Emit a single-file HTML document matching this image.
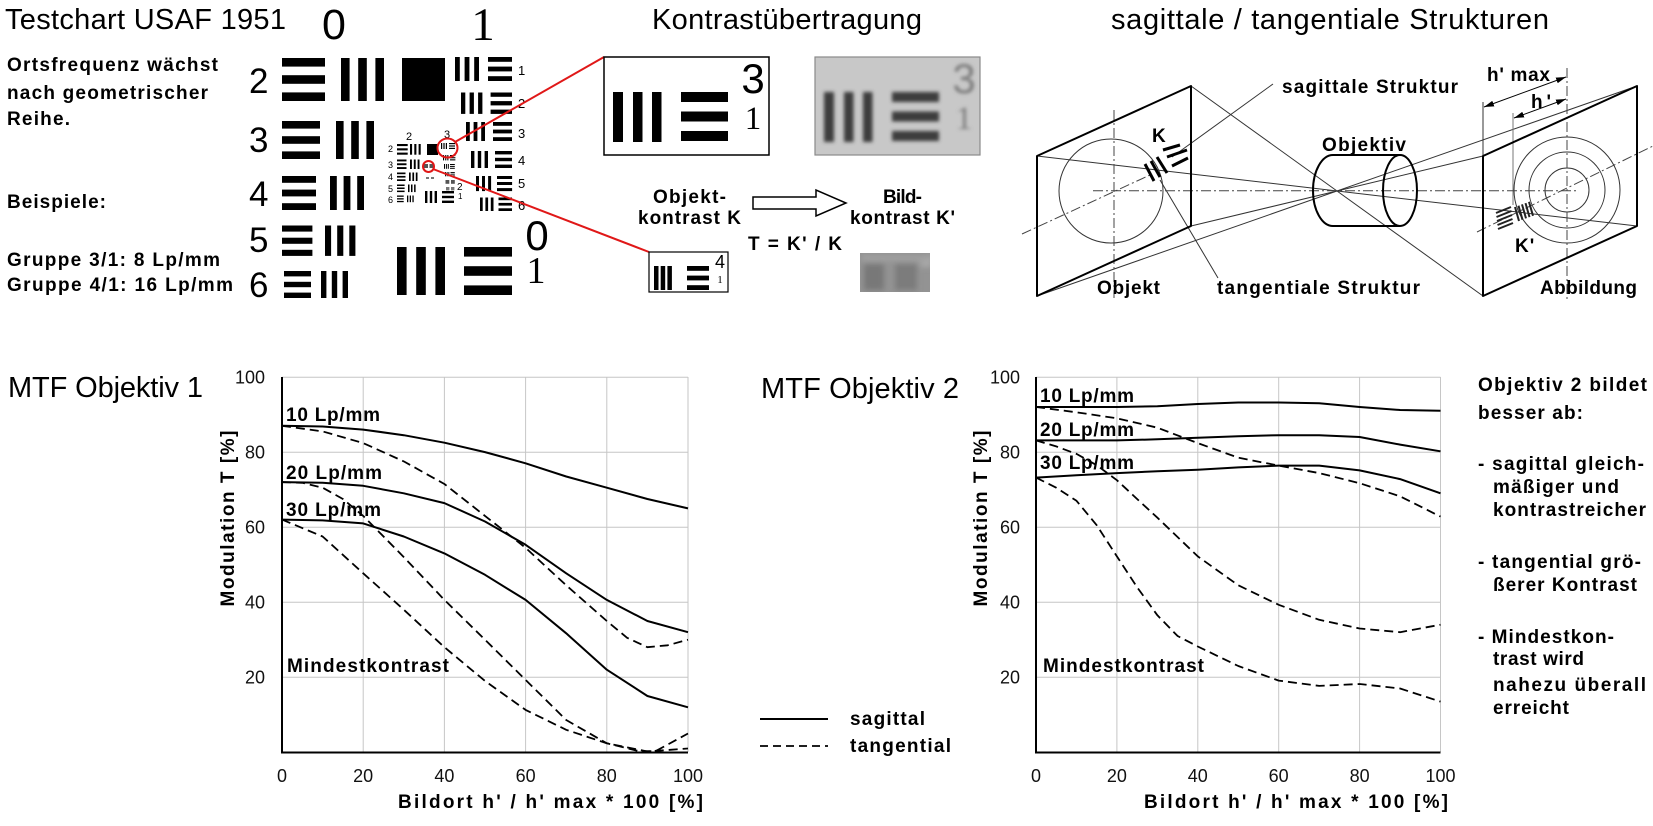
<!DOCTYPE html>
<html><head><meta charset="utf-8"><title>MTF</title>
<style>
html,body{margin:0;padding:0;background:#fff;overflow:hidden}
svg{display:block}
.ti{font-family:"Liberation Sans",Arial,sans-serif;font-size:29px;fill:#000}
.b{font-family:"Liberation Sans",Arial,sans-serif;font-weight:bold;font-size:19px;letter-spacing:1px;fill:#000}
.n{font-family:"Liberation Sans",Arial,sans-serif;font-size:18px;fill:#111}
.d{font-family:"Liberation Sans",Arial,sans-serif;fill:#000}
.s{font-family:"Liberation Serif","Times New Roman",serif;fill:#000}
</style></head><body>
<svg width="1653" height="826" viewBox="0 0 1653 826" xmlns="http://www.w3.org/2000/svg">
<defs>
<filter id="bl" x="-30%" y="-30%" width="160%" height="160%"><feGaussianBlur stdDeviation="1.8"/></filter>
<filter id="bl2" x="-30%" y="-30%" width="160%" height="160%"><feGaussianBlur stdDeviation="2.6"/></filter>
<clipPath id="cg"><rect x="815" y="57" width="165" height="98"/></clipPath>
<clipPath id="cg2"><rect x="860" y="253" width="70" height="39"/></clipPath>
<marker id="ah" viewBox="0 0 10 6" refX="10" refY="3" markerWidth="10" markerHeight="6" markerUnits="userSpaceOnUse" orient="auto-start-reverse"><path d="M0,0 L10,3 L0,6z" fill="#000"/></marker>
</defs>
<rect width="1653" height="826" fill="#fff"/>

<!-- ============ TITLES ============ -->
<text class="ti" x="5" y="29" textLength="281">Testchart USAF 1951</text>
<text class="ti" x="652" y="29" textLength="270">Kontrastübertragung</text>
<text class="ti" x="1111" y="29" textLength="438">sagittale / tangentiale Strukturen</text>
<text class="ti" x="8" y="397" textLength="195">MTF Objektiv 1</text>
<text class="ti" x="761" y="398" textLength="198">MTF Objektiv 2</text>

<!-- ============ LEFT TEXT ============ -->
<text class="b" x="7" y="71" textLength="212">Ortsfrequenz wächst</text>
<text class="b" x="7" y="99" textLength="202">nach geometrischer</text>
<text class="b" x="7" y="125" textLength="64">Reihe.</text>
<text class="b" x="7" y="208" textLength="100">Beispiele:</text>
<text class="b" x="7" y="266" textLength="214">Gruppe 3/1: 8 Lp/mm</text>
<text class="b" x="7" y="291" textLength="227">Gruppe 4/1: 16 Lp/mm</text>

<!-- ============ TESTCHART ============ -->
<g class="d" font-size="35">
<text x="249" y="93">2</text>
<text x="249" y="152">3</text>
<text x="249" y="206">4</text>
<text x="249" y="252">5</text>
<text x="249" y="297">6</text>
</g>
<text class="d" x="334" y="39" font-size="43" text-anchor="middle">0</text>
<text class="s" x="483" y="40" font-size="47" text-anchor="middle">1</text>
<text class="d" x="537" y="250" font-size="42" text-anchor="middle">0</text>
<text class="s" x="536" y="283" font-size="38" text-anchor="middle">1</text>

<g fill="#000">
<!-- group0 e2 -->
<rect x="282" y="58" width="43" height="8.6"/><rect x="282" y="75.2" width="43" height="8.6"/><rect x="282" y="92.4" width="43" height="8.6"/>
<rect x="341" y="58" width="8.6" height="43"/><rect x="358.2" y="58" width="8.6" height="43"/><rect x="375.4" y="58" width="8.6" height="43"/>
<rect x="402" y="58" width="43" height="43"/>
<!-- e3 -->
<rect x="282" y="121" width="38" height="7.6"/><rect x="282" y="136.2" width="38" height="7.6"/><rect x="282" y="151.4" width="38" height="7.6"/>
<rect x="336" y="121" width="7.6" height="38"/><rect x="351.2" y="121" width="7.6" height="38"/><rect x="366.4" y="121" width="7.6" height="38"/>
<!-- e4 -->
<rect x="282" y="176" width="34" height="6.8"/><rect x="282" y="189.6" width="34" height="6.8"/><rect x="282" y="203.2" width="34" height="6.8"/>
<rect x="330" y="176" width="6.8" height="34"/><rect x="343.6" y="176" width="6.8" height="34"/><rect x="357.2" y="176" width="6.8" height="34"/>
<!-- e5 -->
<rect x="282" y="225.5" width="30.4" height="6.1"/><rect x="282" y="237.7" width="30.4" height="6.1"/><rect x="282" y="249.8" width="30.4" height="6.1"/>
<rect x="325" y="225.5" width="6.1" height="30.4"/><rect x="337.2" y="225.5" width="6.1" height="30.4"/><rect x="349.3" y="225.5" width="6.1" height="30.4"/>
<!-- e6 -->
<rect x="284" y="271" width="27" height="5.4"/><rect x="284" y="281.8" width="27" height="5.4"/><rect x="284" y="292.6" width="27" height="5.4"/>
<rect x="321" y="271" width="5.4" height="27"/><rect x="331.8" y="271" width="5.4" height="27"/><rect x="342.6" y="271" width="5.4" height="27"/>
<!-- group0 e1 -->
<rect x="397" y="247" width="9.6" height="48"/><rect x="416.2" y="247" width="9.6" height="48"/><rect x="435.4" y="247" width="9.6" height="48"/>
<rect x="464" y="247" width="48" height="9.6"/><rect x="464" y="266.2" width="48" height="9.6"/><rect x="464" y="285.4" width="48" height="9.6"/>

<!-- group1 -->
<rect x="455" y="57" width="4.8" height="24"/><rect x="464.6" y="57" width="4.8" height="24"/><rect x="474.2" y="57" width="4.8" height="24"/>
<rect x="488" y="57" width="24" height="4.8"/><rect x="488" y="66.6" width="24" height="4.8"/><rect x="488" y="76.2" width="24" height="4.8"/>
<rect x="461" y="92.5" width="4.3" height="21.4"/><rect x="469.6" y="92.5" width="4.3" height="21.4"/><rect x="478.1" y="92.5" width="4.3" height="21.4"/>
<rect x="490.6" y="92.5" width="21.4" height="4.3"/><rect x="490.6" y="101.1" width="21.4" height="4.3"/><rect x="490.6" y="109.6" width="21.4" height="4.3"/>
<rect x="466" y="122" width="3.8" height="19"/><rect x="473.6" y="122" width="3.8" height="19"/><rect x="481.2" y="122" width="3.8" height="19"/>
<rect x="493" y="122" width="19" height="3.8"/><rect x="493" y="129.6" width="19" height="3.8"/><rect x="493" y="137.2" width="19" height="3.8"/>
<rect x="471" y="151" width="3.4" height="17"/><rect x="477.8" y="151" width="3.4" height="17"/><rect x="484.6" y="151" width="3.4" height="17"/>
<rect x="495" y="151" width="17" height="3.4"/><rect x="495" y="157.8" width="17" height="3.4"/><rect x="495" y="164.6" width="17" height="3.4"/>
<rect x="476" y="176" width="3" height="15.1"/><rect x="482" y="176" width="3" height="15.1"/><rect x="488.1" y="176" width="3" height="15.1"/>
<rect x="497" y="176" width="15.1" height="3"/><rect x="497" y="182" width="15.1" height="3"/><rect x="497" y="188.1" width="15.1" height="3"/>
<rect x="480" y="197.5" width="2.7" height="13.5"/><rect x="485.4" y="197.5" width="2.7" height="13.5"/><rect x="490.8" y="197.5" width="2.7" height="13.5"/>
<rect x="498.5" y="197.5" width="13.5" height="2.7"/><rect x="498.5" y="202.9" width="13.5" height="2.7"/><rect x="498.5" y="208.3" width="13.5" height="2.7"/>

<!-- group2 -->
<rect x="397" y="144" width="10.7" height="2.1"/><rect x="397" y="148.3" width="10.7" height="2.1"/><rect x="397" y="152.6" width="10.7" height="2.1"/>
<rect x="410" y="144" width="2.1" height="10.7"/><rect x="414.3" y="144" width="2.1" height="10.7"/><rect x="418.6" y="144" width="2.1" height="10.7"/>
<rect x="427" y="144" width="11" height="11"/>
<rect x="397" y="159.5" width="9.5" height="1.9"/><rect x="397" y="163.3" width="9.5" height="1.9"/><rect x="397" y="167.1" width="9.5" height="1.9"/>
<rect x="410" y="159.5" width="1.9" height="9.5"/><rect x="413.8" y="159.5" width="1.9" height="9.5"/><rect x="417.6" y="159.5" width="1.9" height="9.5"/>
<rect x="397" y="172.5" width="8.5" height="1.7"/><rect x="397" y="175.9" width="8.5" height="1.7"/><rect x="397" y="179.3" width="8.5" height="1.7"/>
<rect x="409" y="172.5" width="1.7" height="8.5"/><rect x="412.4" y="172.5" width="1.7" height="8.5"/><rect x="415.8" y="172.5" width="1.7" height="8.5"/>
<rect x="397" y="184.5" width="7.6" height="1.5"/><rect x="397" y="187.5" width="7.6" height="1.5"/><rect x="397" y="190.6" width="7.6" height="1.5"/>
<rect x="408" y="184.5" width="1.5" height="7.6"/><rect x="411" y="184.5" width="1.5" height="7.6"/><rect x="414.1" y="184.5" width="1.5" height="7.6"/>
<rect x="397" y="195.5" width="6.7" height="1.3"/><rect x="397" y="198.2" width="6.7" height="1.3"/><rect x="397" y="200.9" width="6.7" height="1.3"/>
<rect x="407" y="195.5" width="1.3" height="6.7"/><rect x="409.7" y="195.5" width="1.3" height="6.7"/><rect x="412.4" y="195.5" width="1.3" height="6.7"/>
<rect x="425" y="191" width="2.4" height="12"/><rect x="429.8" y="191" width="2.4" height="12"/><rect x="434.6" y="191" width="2.4" height="12"/>
<rect x="442" y="191" width="12" height="2.4"/><rect x="442" y="195.8" width="12" height="2.4"/><rect x="442" y="200.6" width="12" height="2.4"/>
<!-- group3 -->
<rect x="441" y="143" width="1.2" height="6"/><rect x="443.4" y="143" width="1.2" height="6"/><rect x="445.8" y="143" width="1.2" height="6"/>
<rect x="449" y="143" width="6" height="1.2"/><rect x="449" y="145.4" width="6" height="1.2"/><rect x="449" y="147.8" width="6" height="1.2"/>
<rect x="443" y="155" width="1.1" height="5.4"/><rect x="445.2" y="155" width="1.1" height="5.4"/><rect x="447.3" y="155" width="1.1" height="5.4"/>
<rect x="450" y="155" width="5.4" height="1.1"/><rect x="450" y="157.2" width="5.4" height="1.1"/><rect x="450" y="159.3" width="5.4" height="1.1"/>
<rect x="444" y="164" width="1" height="4.8"/><rect x="445.9" y="164" width="1" height="4.8"/><rect x="447.8" y="164" width="1" height="4.8"/>
<rect x="450" y="164" width="4.8" height="1"/><rect x="450" y="165.9" width="4.8" height="1"/><rect x="450" y="167.8" width="4.8" height="1"/>
<rect x="445" y="172" width="0.9" height="4.3"/><rect x="446.7" y="172" width="0.9" height="4.3"/><rect x="448.4" y="172" width="0.9" height="4.3"/>
<rect x="450.5" y="172" width="4.3" height="0.9"/><rect x="450.5" y="173.7" width="4.3" height="0.9"/><rect x="450.5" y="175.4" width="4.3" height="0.9"/>
<rect x="445.5" y="180" width="3.8" height="3.8" fill="#555"/><rect x="451" y="180" width="3.8" height="3.8" fill="#555"/>
<rect x="446" y="187" width="3.4" height="3.4" fill="#777"/><rect x="451" y="187" width="3.4" height="3.4" fill="#777"/>
<rect x="424" y="164" width="4" height="4" fill="#555"/><rect x="429.5" y="164" width="4" height="4" fill="#555"/>
<rect x="426" y="177" width="3" height="2" fill="#777"/><rect x="431" y="177" width="3" height="2" fill="#777"/>
</g>
<g class="d" font-size="13" fill="#555">
<text x="518" y="75">1</text><text x="518" y="108">2</text><text x="518" y="138">3</text>
<text x="518" y="165">4</text><text x="518" y="188">5</text><text x="518" y="210">6</text>
</g>
<g class="d" font-size="9" fill="#666">
<text x="406" y="140" font-size="11">2</text><text x="444" y="138" font-size="11">3</text>
<text x="388" y="152">2</text><text x="388" y="168">3</text><text x="388" y="180">4</text>
<text x="388" y="192">5</text><text x="388" y="203">6</text>
<text x="457" y="190" font-size="10">2</text><text x="458" y="199" font-size="8">1</text>
</g>
<!-- red -->
<g stroke="#e01818" stroke-width="2" fill="none">
<ellipse cx="447.5" cy="148" rx="10" ry="9.5"/>
<circle cx="428.5" cy="166.5" r="5.5"/>
<line x1="455" y1="142" x2="604" y2="57"/>
<line x1="433" y1="169" x2="649" y2="252"/>
</g>

<!-- ============ KONTRAST ============ -->
<rect x="604" y="57" width="165" height="98" fill="#fff" stroke="#000" stroke-width="1.5"/>
<g fill="#000">
<rect x="613" y="92" width="10" height="50"/><rect x="633" y="92" width="9.5" height="50"/><rect x="652" y="92" width="9.5" height="50"/>
<rect x="681" y="92" width="47" height="10"/><rect x="681" y="111.5" width="47" height="10"/><rect x="681" y="131" width="47" height="10"/>
</g>
<text class="d" x="753" y="93" font-size="42" text-anchor="middle">3</text>
<text class="s" x="753" y="129" font-size="33" text-anchor="middle">1</text>

<rect x="815" y="57" width="165" height="98" fill="#c8c8c8" stroke="#8a8a8a" stroke-width="1.2"/>
<g clip-path="url(#cg)"><g filter="url(#bl)" fill="#3c3c3c">
<rect x="824" y="92" width="10" height="50"/><rect x="844" y="92" width="9.5" height="50"/><rect x="863" y="92" width="9.5" height="50"/>
<rect x="892" y="92" width="47" height="10"/><rect x="892" y="111.5" width="47" height="10"/><rect x="892" y="131" width="47" height="10"/>
<text x="964" y="93" font-size="42" text-anchor="middle" font-family="Liberation Sans, sans-serif" fill="#7a7a7a">3</text>
<text x="964" y="129" font-size="33" text-anchor="middle" font-family="Liberation Serif, serif" fill="#7a7a7a">1</text>
</g></g>

<text class="b" x="653" y="203" textLength="74">Objekt-</text>
<text class="b" x="638" y="224" textLength="104">kontrast K</text>
<text class="b" x="883" y="203" textLength="40">Bild-</text>
<text class="b" x="850" y="224" textLength="106">kontrast K'</text>
<text class="b" x="748" y="250" textLength="95">T = K' / K</text>
<polygon points="753,197 816,197 816,190 846,203 816,216 816,209 753,209" fill="#fff" stroke="#000" stroke-width="1.5"/>

<rect x="649" y="252" width="79" height="40" fill="#fff" stroke="#000" stroke-width="1.2"/>
<g fill="#000">
<rect x="654" y="266" width="4.5" height="24"/><rect x="660.7" y="266" width="4.5" height="24"/><rect x="667.4" y="266" width="4.5" height="24"/>
<rect x="687" y="266" width="22" height="4.8"/><rect x="687" y="275.6" width="22" height="4.8"/><rect x="687" y="285.2" width="22" height="4.8"/>
</g>
<text class="d" x="720" y="268" font-size="18" text-anchor="middle">4</text>
<text class="s" x="720" y="283" font-size="11" text-anchor="middle">1</text>

<rect x="860" y="253" width="70" height="39" fill="#939393"/>
<g clip-path="url(#cg2)"><g filter="url(#bl2)">
<rect x="864" y="264" width="20" height="26" fill="#787878"/>
<rect x="895" y="264" width="22" height="26" fill="#7c7c7c"/>
<rect x="920" y="255" width="12" height="12" fill="#a8a8a8"/>
<rect x="862" y="255" width="66" height="6" fill="#a0a0a0"/>
</g></g>

<!-- ============ SAGITTAL / TANGENTIAL ============ -->
<g stroke="#333" stroke-width="1" fill="none">
<line x1="1037" y1="156" x2="1637" y2="226"/>
<line x1="1191" y1="86" x2="1483" y2="296"/>
<line x1="1037" y1="296" x2="1637" y2="86"/>
<line x1="1191" y1="226" x2="1483" y2="156"/>
<line x1="1172" y1="157" x2="1273" y2="84"/>
<line x1="1160" y1="180" x2="1218" y2="278"/>
<circle cx="1111" cy="191" r="52"/>
<circle cx="1567" cy="190" r="22"/>
<circle cx="1567" cy="190" r="38"/>
<circle cx="1567" cy="190" r="53"/>
<line x1="1483" y1="102" x2="1483" y2="156"/>
<line x1="1513" y1="113" x2="1513" y2="205" stroke="#777"/>
</g>
<g stroke="#444" stroke-width="1" fill="none" stroke-dasharray="10 3 2 3">
<line x1="1093" y1="190.7" x2="1576" y2="190.7"/>
<line x1="1114" y1="110" x2="1114" y2="298"/>
<line x1="1567" y1="68" x2="1567" y2="300"/>
<line x1="1022" y1="234" x2="1150" y2="175"/>
<line x1="1477" y1="232" x2="1653" y2="146"/>
</g>
<g stroke="#000" stroke-width="2" fill="none" stroke-linejoin="round">
<polygon points="1037,156 1191,86 1191,226 1037,296"/>
<polygon points="1483,156 1637,86 1637,226 1483,296"/>
<path d="M1333,155 L1400,155 M1333,226 L1400,226 M1333,155 A20,35.5 0 0 0 1333,226"/>
<ellipse cx="1400" cy="190.5" rx="17" ry="35.5"/>
</g>
<g stroke="#000" stroke-width="3" stroke-linecap="butt">
<line x1="1145" y1="164" x2="1154" y2="181"/>
<line x1="1151" y1="161" x2="1160" y2="177"/>
<line x1="1157" y1="157" x2="1167" y2="173"/>
<line x1="1163" y1="150" x2="1180" y2="145"/>
<line x1="1167" y1="157" x2="1187" y2="150"/>
<line x1="1172" y1="166" x2="1188" y2="158"/>
</g>
<g stroke="#222" stroke-width="2">
<line x1="1496" y1="213" x2="1511" y2="207"/>
<line x1="1496.5" y1="217" x2="1511.5" y2="211"/>
<line x1="1497" y1="221" x2="1512" y2="215"/>
<line x1="1497.5" y1="225" x2="1512.5" y2="219"/>
<line x1="1498" y1="229" x2="1513" y2="223"/>
<line x1="1515" y1="207" x2="1519" y2="221"/>
<line x1="1518.5" y1="205.7" x2="1522.5" y2="219.7"/>
<line x1="1522" y1="204.4" x2="1526" y2="218.4"/>
<line x1="1525.5" y1="203.1" x2="1529.5" y2="217.1"/>
<line x1="1529" y1="201.8" x2="1533" y2="215.8"/>
</g>
<g stroke="#000" stroke-width="1">
<line x1="1484" y1="107" x2="1566" y2="77" marker-start="url(#ah)" marker-end="url(#ah)"/>
<line x1="1514" y1="118" x2="1566" y2="99" marker-start="url(#ah)" marker-end="url(#ah)"/>
</g>
<text class="b" x="1282" y="93" textLength="177">sagittale Struktur</text>
<text class="b" x="1487" y="81" textLength="64">h' max</text>
<text class="b" x="1531" y="108" textLength="21">h'</text>
<text class="b" x="1322" y="151" font-size="20" textLength="85">Objektiv</text>
<text class="b" x="1152" y="142" font-size="20">K</text>
<text class="b" x="1515" y="252" font-size="20">K'</text>
<text class="b" x="1097" y="294" textLength="64">Objekt</text>
<text class="b" x="1217" y="294" textLength="204">tangentiale Struktur</text>
<text class="b" x="1540" y="294" textLength="98">Abbildung</text>

<!-- ============ CHART 1 ============ -->
<g stroke="#c6c6c6" stroke-width="1">
<line x1="363.2" y1="377" x2="363.2" y2="752"/><line x1="444.4" y1="377" x2="444.4" y2="752"/>
<line x1="525.6" y1="377" x2="525.6" y2="752"/><line x1="606.8" y1="377" x2="606.8" y2="752"/>
<line x1="688" y1="377" x2="688" y2="752"/>
<line x1="282" y1="377.3" x2="688" y2="377.3"/><line x1="282" y1="452.2" x2="688" y2="452.2"/>
<line x1="282" y1="527.2" x2="688" y2="527.2"/><line x1="282" y1="602.2" x2="688" y2="602.2"/>
<line x1="282" y1="677.2" x2="688" y2="677.2"/>
</g>
<g stroke="#000" stroke-width="2"><line x1="282" y1="377" x2="282" y2="753.5"/><line x1="281" y1="752.5" x2="688" y2="752.5"/></g>
<g class="n" text-anchor="end">
<text x="265" y="383.6">100</text><text x="265" y="458.6">80</text><text x="265" y="533.6">60</text>
<text x="265" y="608.5">40</text><text x="265" y="683.5">20</text>
</g>
<g class="n" text-anchor="middle">
<text x="282" y="782">0</text><text x="363.2" y="782">20</text><text x="444.4" y="782">40</text>
<text x="525.6" y="782">60</text><text x="606.8" y="782">80</text><text x="688" y="782">100</text>
</g>
<text class="b" x="398" y="808" textLength="306">Bildort h' / h' max * 100 [%]</text>
<text class="b" x="234" y="518" text-anchor="middle" transform="rotate(-90 234 518)" textLength="177">Modulation T [%]</text>
<g fill="none" stroke="#000" stroke-linejoin="round">
<polyline stroke-width="2" points="282,425.8 322.6,426.5 363.2,429.6 403.8,435.2 444.4,442.7 485,452.1 525.6,463.3 566.2,476.5 606.8,487.7 647.4,499 688,508.4"/>
<polyline stroke-width="2" points="282,482.1 322.6,482.8 363.2,485.8 403.8,493.3 444.4,503.1 485,521.5 525.6,544.8 566.2,573.3 606.8,599.9 647.4,621 688,632.2"/>
<polyline stroke-width="2" points="282,519.6 322.6,520.4 363.2,523.4 403.8,536.5 444.4,553.4 485,574.8 525.6,599.9 566.2,633.3 606.8,669.7 647.4,696 688,707.3"/>
<g stroke-width="1.8" stroke-dasharray="9 5">
<polyline points="282,425.8 322.6,431.4 363.2,443.1 403.8,461.4 444.4,484 485,515.9 525.6,547.8 566.2,585.3 606.8,621 627.1,637.8 647.4,647.2 667.7,645.3 688,639.7"/>
<polyline points="282,482.1 302.3,482.8 322.6,487.7 342.9,499 363.2,515.9 403.8,557.1 444.4,599.9 485,639.7 525.6,679.9 566.2,720 606.8,743.3 639.3,751.2 655.5,751.2 688,733.5"/>
<polyline points="282,519.6 322.6,536.5 363.2,573.3 403.8,609.7 444.4,647.2 485,681 525.6,709.9 566.2,729.8 606.8,743.3 647.4,751.5 688,748.5"/>
</g>
</g>
<text class="b" x="286" y="421" textLength="95">10 Lp/mm</text>
<text class="b" x="286" y="479" textLength="97">20 Lp/mm</text>
<text class="b" x="286" y="516" textLength="96">30 Lp/mm</text>
<text class="b" x="287" y="672" textLength="163">Mindestkontrast</text>

<!-- legend -->
<line x1="760" y1="719" x2="828" y2="719" stroke="#000" stroke-width="2"/>
<line x1="760" y1="746" x2="828" y2="746" stroke="#000" stroke-width="1.8" stroke-dasharray="8 5"/>
<text class="b" x="850" y="725" textLength="76">sagittal</text>
<text class="b" x="850" y="752" textLength="102">tangential</text>

<!-- ============ CHART 2 ============ -->
<g stroke="#c6c6c6" stroke-width="1">
<line x1="1116.9" y1="377" x2="1116.9" y2="752"/><line x1="1197.8" y1="377" x2="1197.8" y2="752"/>
<line x1="1278.7" y1="377" x2="1278.7" y2="752"/><line x1="1359.6" y1="377" x2="1359.6" y2="752"/>
<line x1="1440.5" y1="377" x2="1440.5" y2="752"/>
<line x1="1036" y1="377.3" x2="1440.5" y2="377.3"/><line x1="1036" y1="452.2" x2="1440.5" y2="452.2"/>
<line x1="1036" y1="527.2" x2="1440.5" y2="527.2"/><line x1="1036" y1="602.2" x2="1440.5" y2="602.2"/>
<line x1="1036" y1="677.2" x2="1440.5" y2="677.2"/>
</g>
<g stroke="#000" stroke-width="2"><line x1="1036" y1="377" x2="1036" y2="753.5"/><line x1="1035" y1="752.5" x2="1440.5" y2="752.5"/></g>
<g class="n" text-anchor="end">
<text x="1020" y="383.6">100</text><text x="1020" y="458.6">80</text><text x="1020" y="533.6">60</text>
<text x="1020" y="608.5">40</text><text x="1020" y="683.5">20</text>
</g>
<g class="n" text-anchor="middle">
<text x="1036" y="782">0</text><text x="1116.9" y="782">20</text><text x="1197.8" y="782">40</text>
<text x="1278.7" y="782">60</text><text x="1359.6" y="782">80</text><text x="1440.5" y="782">100</text>
</g>
<text class="b" x="1144" y="808" textLength="305">Bildort h' / h' max * 100 [%]</text>
<text class="b" x="987" y="518" text-anchor="middle" transform="rotate(-90 987 518)" textLength="177">Modulation T [%]</text>
<g fill="none" stroke="#000" stroke-linejoin="round">
<polyline stroke-width="2" points="1036,407 1116.9,407 1157.4,406.3 1197.8,404 1238.3,402.5 1278.7,402.5 1319.2,403.3 1359.6,407 1400.1,410 1440.5,410.8"/>
<polyline stroke-width="2" points="1036,440.4 1116.9,440.4 1157.4,439.3 1197.8,437.8 1238.3,436.3 1278.7,435.2 1319.2,435.2 1359.6,437 1400.1,444.6 1440.5,451.3"/>
<polyline stroke-width="2" points="1036,477.6 1076.5,475.3 1116.9,473.1 1157.4,471.2 1197.8,469.7 1238.3,467.4 1278.7,465.6 1319.2,465.6 1359.6,470.4 1400.1,479.1 1440.5,493.3"/>
<g stroke-width="1.8" stroke-dasharray="9 5">
<polyline points="1036,407 1076.5,412.3 1116.9,418.3 1157.4,427.7 1197.8,443.1 1238.3,457.7 1278.7,465.6 1319.2,473.1 1359.6,483.2 1400.1,496.3 1440.5,516.6"/>
<polyline points="1036,440.4 1056.2,446.4 1076.5,453.9 1096.7,465.2 1116.9,480.2 1137.1,499 1157.4,517.7 1197.8,556.4 1238.3,585.3 1278.7,604.8 1319.2,619.8 1359.6,628.5 1400.1,632.2 1440.5,624.7"/>
<polyline points="1036,477.6 1056.2,487.7 1076.5,500.8 1096.7,525.2 1116.9,556.4 1137.1,587.2 1157.4,615.3 1177.6,636 1197.8,646.5 1238.3,666 1278.7,680.6 1319.2,685.9 1359.6,684 1400.1,688.5 1440.5,701.6"/>
</g>
</g>
<text class="b" x="1040" y="402" textLength="95">10 Lp/mm</text>
<text class="b" x="1040" y="436" textLength="95">20 Lp/mm</text>
<text class="b" x="1040" y="469" textLength="95">30 Lp/mm</text>
<text class="b" x="1043" y="672" textLength="162">Mindestkontrast</text>

<!-- ============ RIGHT TEXT ============ -->
<text class="b" x="1478" y="391" textLength="170">Objektiv 2 bildet</text>
<text class="b" x="1478" y="419" textLength="106">besser ab:</text>
<text class="b" x="1478" y="470" textLength="167">- sagittal gleich-</text>
<text class="b" x="1493" y="493" textLength="127">mäßiger und</text>
<text class="b" x="1493" y="516" textLength="154">kontrastreicher</text>
<text class="b" x="1478" y="568" textLength="164">- tangential grö-</text>
<text class="b" x="1493" y="591" textLength="145">ßerer Kontrast</text>
<text class="b" x="1478" y="643" textLength="137">- Mindestkon-</text>
<text class="b" x="1493" y="665" textLength="92">trast wird</text>
<text class="b" x="1493" y="691" textLength="154">nahezu überall</text>
<text class="b" x="1493" y="714" textLength="77">erreicht</text>
</svg>
</body></html>
